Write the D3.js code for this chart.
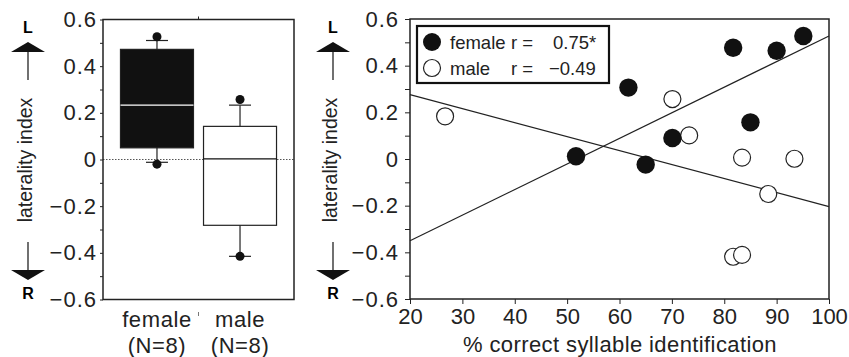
<!DOCTYPE html>
<html>
<head>
<meta charset="utf-8">
<script src="https://cdn.jsdelivr.net/npm/d3@7"></script>
<style>
  body { margin: 0; background: #fff; }
  svg { display: block; font-family: "Liberation Sans", Arial, sans-serif; }
  .domain { display: none; }
</style>
</head>
<body>
<svg id="chart" width="849" height="357"></svg>
<script>
(function() {
  'use strict';

// box plot data (laterality index)
var categories = ['female', 'male'];
var categoryN = ['(N=8)', '(N=8)'];
var boxQ1 = [0.05, -0.282];
var boxMedian = [0.233, 0.003];
var boxQ3 = [0.472, 0.142];
var whiskerLow = [-0.012, -0.415];
var whiskerHigh = [0.51, 0.233];
var extremeLow = [-0.02, -0.415];
var extremeHigh = [0.526, 0.257];

// scatter data
var femaleX = [51.7, 61.7, 65.0, 70.1, 81.7, 85.0, 90.0, 95.1];
var femaleY = [0.012, 0.306, -0.024, 0.09, 0.477, 0.157, 0.464, 0.527];
var maleX = [26.7, 70.1, 73.3, 83.4, 93.4, 88.4, 81.7, 83.4];
var maleY = [0.183, 0.257, 0.101, 0.006, 0.001, -0.150, -0.419, -0.411];

// regression lines, ends at x = 20 and x = 100
var fitX = [20, 100];
var femaleFit = [-0.35, 0.527];
var maleFit = [0.276, -0.204];

var yTicks = [0.6, 0.4, 0.2, 0, -0.2, -0.4, -0.6];
var yTickLabels = ['0.6', '0.4', '0.2', '0', '\u22120.2', '\u22120.4', '\u22120.6'];
var yMinorTicks = [0.5, 0.3, 0.1, -0.1, -0.3, -0.5];
var xTicks = [20, 30, 40, 50, 60, 70, 80, 90, 100];

var svg = d3.select('#chart');

function yFormat(d) { return yTickLabels[yTicks.indexOf(d)]; }

function arrows(cx) {
  var g = svg.append('g');
  g.append('text').attr('x', cx).attr('y', 33).attr('text-anchor', 'middle')
    .style('font-weight', 'bold').style('font-size', '16px').text('L');
  g.append('path').attr('d', 'M' + (cx - 17) + ',52L' + cx + ',42L' + (cx + 17) + ',52Z').attr('fill', '#111');
  g.append('line').attr('x1', cx).attr('x2', cx).attr('y1', 52).attr('y2', 80).attr('stroke', '#111').attr('stroke-width', 1.2);
  g.append('line').attr('x1', cx).attr('x2', cx).attr('y1', 242).attr('y2', 270).attr('stroke', '#111').attr('stroke-width', 1.2);
  g.append('path').attr('d', 'M' + (cx - 17) + ',270L' + cx + ',280L' + (cx + 17) + ',270Z').attr('fill', '#111');
  g.append('text').attr('x', cx).attr('y', 299).attr('text-anchor', 'middle')
    .style('font-weight', 'bold').style('font-size', '16px').text('R');
  g.append('text')
    .attr('transform', 'translate(' + (cx + 4) + ',160) rotate(-90)')
    .attr('text-anchor', 'middle')
    .style('font-size', '19.5px').attr('fill', '#222')
    .text('laterality index');
}

// ---------------- left panel: box plot ----------------
var left = {x0: 103, x1: 294, y0: 19.5, y1: 299.5};

var yL = d3.scaleLinear().domain([-0.6, 0.6]).range([left.y1, left.y0]);
var xL = d3.scalePoint().domain(categories).range([left.x0, left.x1]).padding(0.65);

arrows(28);

svg.append('line')
  .attr('x1', left.x0).attr('x2', left.x1)
  .attr('y1', yL(0)).attr('y2', yL(0))
  .attr('stroke', '#555').attr('stroke-dasharray', '1.5,1.5');

var gyL = svg.append('g').attr('transform', 'translate(' + left.x0 + ',0)');
gyL.call(d3.axisLeft(yL).tickValues(yTicks).tickFormat(yFormat).tickSize(3).tickPadding(3));
gyL.append('g').call(d3.axisLeft(yL).tickValues(yMinorTicks).tickFormat('').tickSize(3));
gyL.selectAll('text').style('font-size', '22px').style('letter-spacing', '1px').attr('fill', '#222');
gyL.selectAll('line').attr('stroke', '#222');

var boxW = 73;
var box = svg.selectAll('.box')
    .data(categories)
  .enter().append('g')
    .attr('class', 'box');

box.append('line')
  .attr('x1', function(d) { return xL(d); })
  .attr('x2', function(d) { return xL(d); })
  .attr('y1', function(d, i) { return yL(whiskerHigh[i]); })
  .attr('y2', function(d, i) { return yL(whiskerLow[i]); })
  .attr('stroke', '#222').attr('stroke-width', 1.2);

[whiskerHigh, whiskerLow].forEach(function(arr) {
  box.append('line')
    .attr('x1', function(d) { return xL(d) - 11; })
    .attr('x2', function(d) { return xL(d) + 11; })
    .attr('y1', function(d, i) { return yL(arr[i]); })
    .attr('y2', function(d, i) { return yL(arr[i]); })
    .attr('stroke', '#222').attr('stroke-width', 1.2);
});

box.append('rect')
  .attr('x', function(d) { return xL(d) - boxW / 2; })
  .attr('width', boxW)
  .attr('y', function(d, i) { return yL(boxQ3[i]); })
  .attr('height', function(d, i) { return yL(boxQ1[i]) - yL(boxQ3[i]); })
  .attr('fill', function(d, i) { return i === 0 ? '#111' : '#fff'; })
  .attr('stroke', '#222').attr('stroke-width', 1.2);

box.append('line')
  .attr('x1', function(d) { return xL(d) - boxW / 2; })
  .attr('x2', function(d) { return xL(d) + boxW / 2; })
  .attr('y1', function(d, i) { return yL(boxMedian[i]); })
  .attr('y2', function(d, i) { return yL(boxMedian[i]); })
  .attr('stroke', function(d, i) { return i === 0 ? '#fff' : '#111'; })
  .attr('stroke-width', 1.2);

[extremeHigh, extremeLow].forEach(function(arr) {
  box.append('circle')
    .attr('cx', function(d) { return xL(d); })
    .attr('cy', function(d, i) { return yL(arr[i]); })
    .attr('r', 4.5)
    .attr('fill', '#111');
});

svg.append('rect')
  .attr('x', left.x0).attr('y', left.y0)
  .attr('width', left.x1 - left.x0).attr('height', left.y1 - left.y0)
  .attr('fill', 'none').attr('stroke', '#222').attr('stroke-width', 1.5);

var midL = (left.x0 + left.x1) / 2;
svg.append('line').attr('x1', midL).attr('x2', midL).attr('y1', left.y0 - 3).attr('y2', left.y0).attr('stroke', '#222');
svg.append('line').attr('x1', midL).attr('x2', midL).attr('y1', 312).attr('y2', 316).attr('stroke', '#777');

svg.selectAll('.cat')
    .data(categories)
  .enter().append('text')
    .attr('x', function(d) { return xL(d); })
    .attr('y', 327)
    .attr('text-anchor', 'middle')
    .style('font-size', '22px').style('letter-spacing', '0.6px').attr('fill', '#222')
    .text(function(d) { return d; });

svg.selectAll('.catn')
    .data(categoryN)
  .enter().append('text')
    .attr('x', function(d, i) { return xL(categories[i]); })
    .attr('y', 353)
    .attr('text-anchor', 'middle')
    .style('font-size', '22px').style('letter-spacing', '0.6px').attr('fill', '#222')
    .text(function(d) { return d; });

// ---------------- right panel: scatter ----------------
var right = {x0: 410, x1: 829, y0: 19, y1: 299};

var x = d3.scaleLinear().domain([20, 100]).range([right.x0, right.x1]);
var y = d3.scaleLinear().domain([-0.6, 0.6]).range([right.y1, right.y0]);

arrows(333);

var gy = svg.append('g').attr('transform', 'translate(' + right.x0 + ',0)');
gy.call(d3.axisLeft(y).tickValues(yTicks).tickFormat(yFormat).tickSize(5).tickPadding(6));
gy.append('g').call(d3.axisLeft(y).tickValues(yMinorTicks).tickFormat('').tickSize(5));
gy.selectAll('text').style('font-size', '22px').style('letter-spacing', '1px').attr('fill', '#222');
gy.selectAll('line').attr('stroke', '#222');

var gx = svg.append('g').attr('transform', 'translate(0,' + right.y1 + ')');
gx.call(d3.axisBottom(x).tickValues(xTicks).tickSize(5).tickPadding(4));
gx.selectAll('text').style('font-size', '22px').attr('fill', '#222').attr('dy', '0.71em');
gx.selectAll('line').attr('stroke', '#222');

svg.append('text')
  .attr('x', 620).attr('y', 352)
  .attr('text-anchor', 'middle')
  .style('font-size', '22px').style('letter-spacing', '0.4px').attr('fill', '#222')
  .text('% correct syllable identification');

var line = d3.line()
  .x(function(d) { return x(d[0]); })
  .y(function(d) { return y(d[1]); });

[femaleFit, maleFit].forEach(function(fit) {
  svg.append('path')
    .datum(fitX.map(function(v, i) { return [v, fit[i]]; }))
    .attr('d', line)
    .attr('fill', 'none').attr('stroke', '#222').attr('stroke-width', 1.2);
});

svg.selectAll('.male')
    .data(maleX)
  .enter().append('circle')
    .attr('cx', function(d) { return x(d); })
    .attr('cy', function(d, i) { return y(maleY[i]); })
    .attr('r', 8.5)
    .attr('fill', '#fff').attr('stroke', '#222').attr('stroke-width', 1.2);

svg.selectAll('.female')
    .data(femaleX)
  .enter().append('circle')
    .attr('cx', function(d) { return x(d); })
    .attr('cy', function(d, i) { return y(femaleY[i]); })
    .attr('r', 9.2)
    .attr('fill', '#111');

svg.append('rect')
  .attr('x', right.x0).attr('y', right.y0)
  .attr('width', right.x1 - right.x0).attr('height', right.y1 - right.y0)
  .attr('fill', 'none').attr('stroke', '#222').attr('stroke-width', 1.5);

// legend
var legend = svg.append('g');
legend.append('rect')
  .attr('x', 417).attr('y', 26).attr('width', 192).attr('height', 57)
  .attr('fill', '#fff').attr('stroke', '#111').attr('stroke-width', 2.2);
legend.append('circle').attr('cx', 432).attr('cy', 42).attr('r', 9).attr('fill', '#111');
legend.append('circle').attr('cx', 432).attr('cy', 68).attr('r', 8.5).attr('fill', '#fff').attr('stroke', '#222').attr('stroke-width', 1.2);

var legendRows = [
  {y: 49, name: 'female', value: '0.75*', vx: 553},
  {y: 75, name: 'male', value: '\u22120.49', vx: 549}
];
legendRows.forEach(function(r) {
  var t = legend.append('text').attr('y', r.y).style('font-size', '18.5px').attr('fill', '#222');
  t.append('tspan').attr('x', 450).text(r.name);
  t.append('tspan').attr('x', 511).text('r =');
  t.append('tspan').attr('x', r.vx).text(r.value);
});

}());
</script>
</body>
</html>
